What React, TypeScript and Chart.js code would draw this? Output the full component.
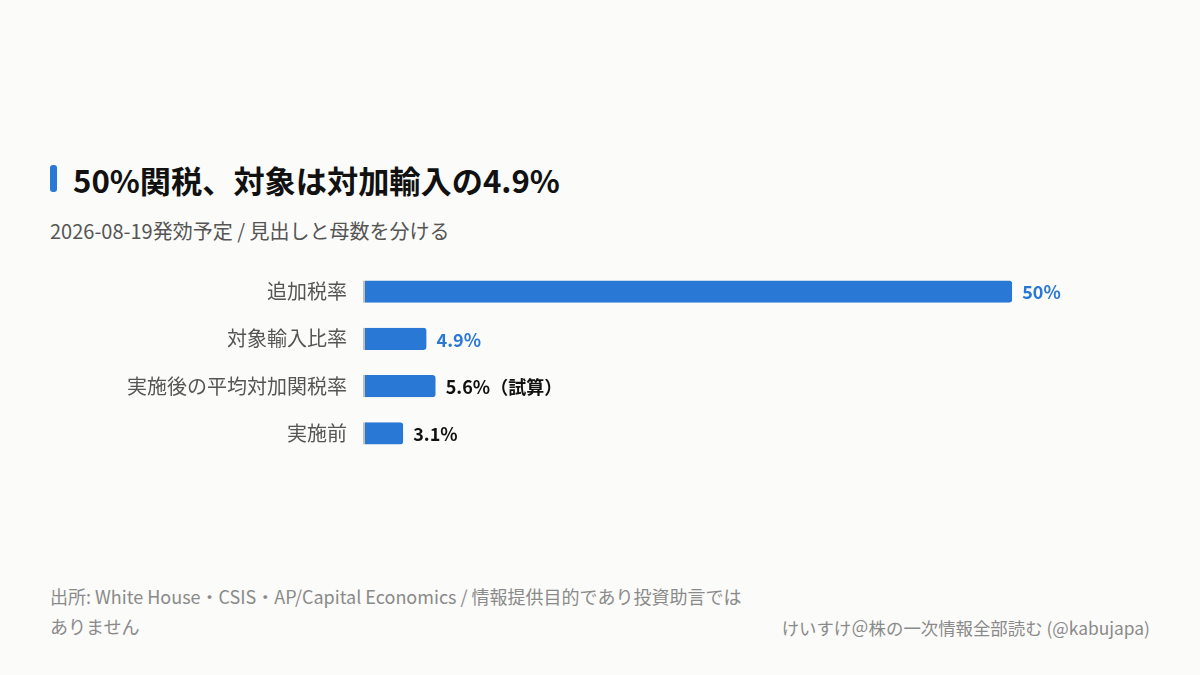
import React, { useEffect, useRef } from "react";
import { Chart, registerables } from "chart.js";

Chart.register(...registerables);

const categories = ["追加税率", "対象輸入比率", "実施後の平均対加関税率", "実施前"];
const values = [50, 4.9, 5.6, 3.1];
const valueLabels = ["50%", "4.9%", "5.6%（試算）", "3.1%"];
const labelColors = ["#2a78d6", "#2a78d6", "#111111", "#111111"];

const FONT = "'Noto Sans CJK JP', 'Noto Sans', sans-serif";
const BLUE = "#2a78d6";

const valueLabelPlugin = {
  id: "valueLabels",
  afterDatasetsDraw(chart: any) {
    const ctx = chart.ctx;
    const meta = chart.getDatasetMeta(0);
    ctx.save();
    ctx.font = `600 18px ${FONT}`;
    ctx.textBaseline = "middle";
    ctx.textAlign = "left";
    meta.data.forEach((bar: any, i: number) => {
      ctx.fillStyle = labelColors[i];
      ctx.fillText(valueLabels[i], bar.x + 10, bar.y + 1);
    });
    ctx.restore();
  },
};

function BarChart() {
  const ref = useRef<HTMLCanvasElement | null>(null);
  useEffect(() => {
    if (!ref.current) return;
    const chart = new Chart(ref.current, {
      type: "bar",
      data: {
        labels: categories,
        datasets: [
          {
            data: values,
            backgroundColor: BLUE,
            borderColor: "#c2bfb7",
            borderWidth: { left: 2, right: 0, top: 0, bottom: 0 } as any,
            borderSkipped: false,
            borderRadius: { topLeft: 0, bottomLeft: 0, topRight: 3, bottomRight: 3 } as any,
            categoryPercentage: 1,
            barPercentage: 0.47,
          },
        ],
      },
      options: {
        indexAxis: "y",
        responsive: false,
        maintainAspectRatio: false,
        animation: false,
        layout: { padding: { top: 0, bottom: 0, left: 0, right: 58 } },
        plugins: {
          legend: { display: false },
          tooltip: { enabled: false },
          title: { display: false },
        },
        scales: {
          x: {
            display: false,
            min: 0,
            max: 60,
          },
          y: {
            afterFit(scale: any) {
              scale.width = 363;
            },
            grid: { display: false, drawTicks: false },
            border: { display: false },
            ticks: {
              padding: 16,
              color: "#555555",
              font: { family: FONT, size: 20 },
            },
          },
        },
      },
      plugins: [valueLabelPlugin],
    });
    return () => chart.destroy();
  }, []);
  return <canvas ref={ref} width={1200} height={245} style={{ position: "absolute", left: 0, top: 240, width: 1200, height: 245 }} />;
}

export default function App() {
  return (
    <div
      style={{
        position: "fixed",
        left: 0,
        top: 0,
        width: 1200,
        height: 675,
        background: "#fbfbf9",
        fontFamily: FONT,
        overflow: "hidden",
      }}
    >
      <div style={{ position: "absolute", left: 50, top: 165, width: 7, height: 27, background: BLUE, borderRadius: 3 }} />
      <div style={{ position: "absolute", left: 73, top: 158, fontSize: 31.2, fontWeight: 700, color: "#111111", lineHeight: "44px", whiteSpace: "nowrap" }}>
        50%関税、対象は対加輸入の4.9%
      </div>
      <div style={{ position: "absolute", left: 50, top: 216, fontSize: 20, color: "#555555", lineHeight: "30px", whiteSpace: "nowrap" }}>
        2026-08-19発効予定 / 見出しと母数を分ける
      </div>
      <BarChart />
      <div style={{ position: "absolute", left: 50, top: 581, width: 700, fontSize: 18, color: "#8a8a8a", lineHeight: "30px" }}>
        出所: White House・CSIS・AP/Capital Economics / 情報提供目的であり投資助言ではありません
      </div>
      <div style={{ position: "absolute", right: 50, top: 614, fontSize: 17.4, color: "#8a8a8a", lineHeight: "28px", whiteSpace: "nowrap" }}>
        けいすけ＠株の一次情報全部読む (@kabujapa)
      </div>
    </div>
  );
}
